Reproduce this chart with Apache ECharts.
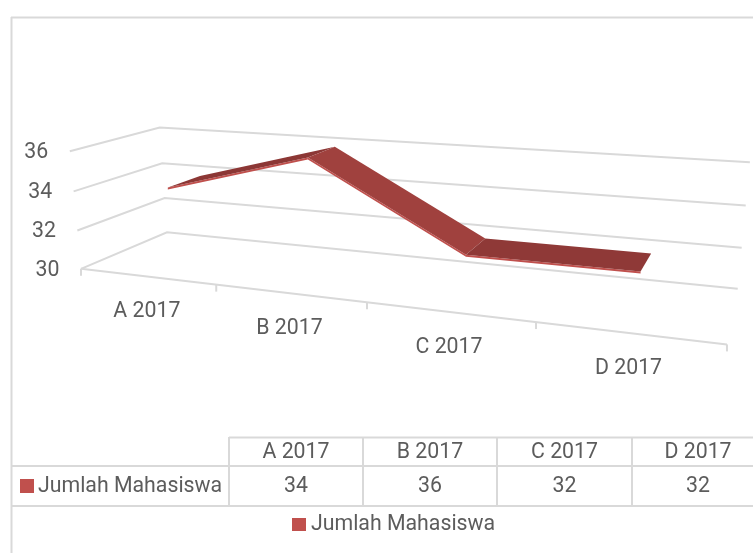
<!DOCTYPE html>
<html>
<head>
<meta charset="utf-8">
<style>html,body{margin:0;padding:0;background:#fff}#c{width:753px;height:553px}</style>
<script src="https://cdn.jsdelivr.net/npm/echarts@6/dist/echarts.min.js"></script>
</head>
<body>
<div id="c"></div>
<script>
var categories = ['A 2017', 'B 2017', 'C 2017', 'D 2017'];
var seriesName = 'Jumlah Mahasiswa';
var values = [34, 36, 32, 32];
var yTicks = [30, 32, 34, 36];

var FONT = 'Roboto', FS = 21.3, TXT = '#5c5c5c', LINE = '#d9d9d9', RED = '#c0504d';
var faceColors = ['#8c3735', '#a0413e', '#8f3937'];
var TY = 1.5;

// hidden plot rectangle: ECharts scales map data into it, then a perspective camera tilts it
var G = {l: 100, t: 100, w: 500, h: 300};
function project(p, d) {
  var u = (p[0] - G.l) / G.w, v = (G.t + G.h - p[1]) / G.h;
  var w = 1 - 0.2056 * u - 0.033 * v + 0.13 * d;
  return [(81 + 496.5 * u - 13.5 * v + 107.7 * d) / w,
          (268.8 + 4.8 * u - 122.5 * v - 6.3 * d) / w];
}
var D_FRONT = 0.3, D_BACK = 0.69;

function lineEl(pts) {
  return {type: 'polyline', shape: {points: pts}, silent: true,
          style: {stroke: LINE, lineWidth: 2, fill: null}};
}
function textEl(x, y, s, align) {
  return {type: 'text', silent: true, x: x, y: y + TY,
          style: {text: s, font: FS + 'px ' + FONT, fill: TXT, align: align || 'center', verticalAlign: 'middle'}};
}

function renderGrid(params, api) {
  var val = api.value(0);
  var left = [G.l, api.coord([0, val])[1]];
  var right = [G.l + G.w * 0.995, left[1]];
  var f = project(left, 0);
  return {type: 'group', children: [
    lineEl([f, project(left, 1), project(right, 1)]),
    textEl(f[0] - 21.5, f[1], String(val), 'right')
  ]};
}
function renderFloor(params, api) {
  var y = api.coord([0, yTicks[0]])[1];
  var n = categories.length, kids = [];
  var band = G.w / n;
  kids.push(lineEl([project([G.l, y], 0), project([G.l + G.w, y], 0)]));
  for (var i = 0; i <= n; i++) {
    var p = project([G.l + band * i, y], 0);
    kids.push(lineEl([p, [p[0], p[1] + 7]]));
  }
  categories.forEach(function (c, k) {
    var q = project([api.coord([k, yTicks[0]])[0], y], 0);
    kids.push(textEl(q[0], q[1] + 34, c));
  });
  return {type: 'group', children: kids};
}
function renderRibbon(params, api) {
  var i = params.dataIndex;
  if (i >= values.length - 1) return {type: 'group', children: []};
  var a = api.coord([i, values[i]]), b = api.coord([i + 1, values[i + 1]]);
  var af = project(a, D_FRONT), bf = project(b, D_FRONT), ab = project(a, D_BACK), bb = project(b, D_BACK);
  return {type: 'group', children: [
    {type: 'polygon', silent: true, shape: {points: [af, bf, [bf[0], bf[1] + 2], [af[0], af[1] + 2]]},
     style: {fill: RED}},
    {type: 'polygon', silent: true, shape: {points: [af, bf, bb, ab]},
     style: {fill: faceColors[i]}}
  ]};
}

// data table + frame
var graphics = [];
function rule(x1, y1, x2, y2) {
  graphics.push({type: 'line', shape: {x1: x1, y1: y1, x2: x2, y2: y2}, silent: true,
                 style: {stroke: LINE, lineWidth: 2}});
}
function gtext(x, y, s, align) {
  graphics.push({type: 'text', x: x, y: y + TY, silent: true,
    style: {text: s, font: FS + 'px ' + FONT, fill: TXT, align: align || 'center', verticalAlign: 'middle'}});
}
rule(11, 17.5, 753, 17.5);
rule(11.5, 17, 11.5, 553);
rule(229, 437.5, 753, 437.5);
rule(11, 466, 753, 466);
rule(11, 506, 753, 506);
var colX = [229, 363, 497, 632, 766];
colX.slice(0, 4).forEach(function (x) { rule(x, 437, x, 506); });
categories.forEach(function (c, i) {
  var cx = (colX[i] + colX[i + 1]) / 2;
  gtext(i === 3 ? 698 : cx, 451, c);
  gtext(i === 3 ? 698 : cx, 485, String(values[i]));
});
graphics.push({type: 'rect', shape: {x: 20, y: 479, width: 14, height: 14}, silent: true, style: {fill: RED}});
gtext(38, 485, seriesName, 'left');

var chart = echarts.init(document.getElementById('c'));
chart.setOption({
  animation: false,
  backgroundColor: '#fff',
  grid: {left: G.l, top: G.t, width: G.w, height: G.h},
  xAxis: {type: 'category', data: categories, show: false},
  yAxis: {type: 'value', min: 30, max: 36, interval: 2, show: false},
  legend: {
    data: [seriesName], left: 292, top: 514, itemWidth: 14, itemHeight: 13, itemGap: 4, icon: 'rect',
    selectedMode: false, padding: 0,
    textStyle: {fontFamily: FONT, fontSize: FS, color: TXT}
  },
  graphic: graphics,
  series: [
    {type: 'custom', name: 'grid', coordinateSystem: 'cartesian2d', renderItem: renderGrid, silent: true,
     encode: {y: 0}, data: yTicks.map(function (t) { return [t]; }), z: 1},
    {type: 'custom', name: 'floor', coordinateSystem: 'cartesian2d', renderItem: renderFloor, silent: true,
     data: [[0]], z: 1},
    {type: 'custom', name: seriesName, coordinateSystem: 'cartesian2d', renderItem: renderRibbon, silent: true,
     itemStyle: {color: RED}, encode: {x: 0, y: 1},
     data: values.map(function (v, i) { return [i, v]; }), z: 3}
  ]
});
</script>
</body>
</html>
